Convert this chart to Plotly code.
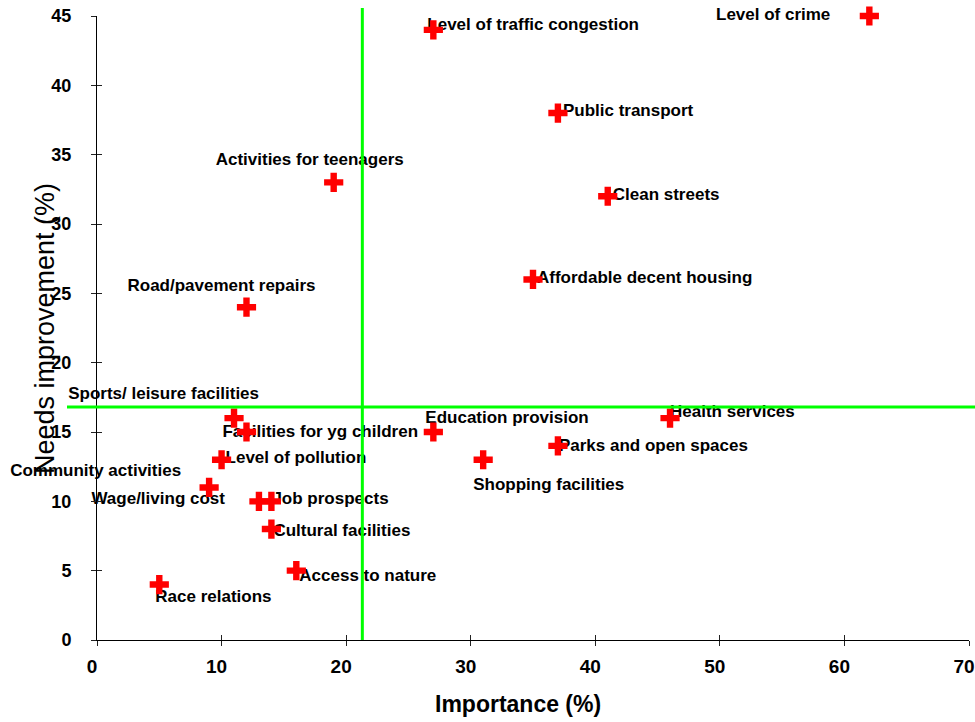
import plotly.graph_objects as go

# ---- data ----
labels = [
    "Level of crime", "Level of traffic congestion", "Public transport", "Clean streets",
    "Activities for teenagers", "Affordable decent housing", "Road/pavement repairs",
    "Sports/ leisure facilities", "Facilities for yg children", "Level of pollution",
    "Community activities", "Wage/living cost", "Job prospects", "Cultural facilities",
    "Access to nature", "Race relations", "Education provision", "Health services",
    "Parks and open spaces", "Shopping facilities",
]
importance = [62, 27, 37, 41, 19, 35, 12, 11, 12, 10, 9, 13, 14, 14, 16, 5, 27, 46, 37, 31]
needs_improvement = [45, 44, 38, 32, 33, 26, 24, 16, 15, 13, 11, 10, 10, 8, 5, 4, 15, 16, 14, 13]
mean_importance = 21.3
mean_needs = 16.8
x_ticks = [0, 10, 20, 30, 40, 50, 60, 70]
y_ticks = [0, 5, 10, 15, 20, 25, 30, 35, 40, 45]

# ---- label placement (pixel offsets of the text anchor from each point; dy is downwards) ----
label_dx = [-39, -6, 5, 5, -118, 4, -119, 25, -24, 4, -28, -34, 1, 2, 3, -4, -8, 0, 1, -10]
label_dy = [0, -4, -1, -1, -22, -1, -20, -23, 1, -1, -16, -2, -2, 3, 6, 13, -13, -5, 1, 26]
label_pos = ["middle left", "middle right", "middle right", "middle right", "middle right",
             "middle right", "middle right", "middle left", "middle right", "middle right",
             "middle left", "middle left", "middle right", "middle right", "middle right",
             "middle right", "middle right", "middle right", "middle right", "middle right"]

# ---- layout geometry ----
W, H = 975, 722
ML, MR, MT, MB = 97, 6, 16, 82
PW, PH = W - ML - MR, H - MT - MB
XMAX, YMAX = 70, 45
PXX, PXY = PW / XMAX, PH / YMAX

lab_x = [x + dx / PXX for x, dx in zip(importance, label_dx)]
lab_y = [y - dy / PXY for y, dy in zip(needs_improvement, label_dy)]

FONT = "Liberation Sans, Arial, sans-serif"

fig = go.Figure()
fig.add_trace(go.Scatter(
    x=lab_x, y=lab_y, mode="text", text=labels, textposition=label_pos,
    textfont=dict(family=FONT, size=17, color="black", weight="bold"),
    cliponaxis=False, showlegend=False, hoverinfo="skip",
))
fig.add_trace(go.Scatter(
    x=importance, y=needs_improvement, mode="markers",
    marker=dict(symbol="cross", size=16, color="#ff0000", line=dict(width=0)),
    cliponaxis=False, showlegend=False,
))
fig.add_trace(go.Scatter(x=[None], y=[None], xaxis="x2", yaxis="y2",
                         showlegend=False, hoverinfo="skip"))

axis_common = dict(showgrid=False, zeroline=False, ticklen=5, tickwidth=1, tickcolor="#222",
                   automargin=False)
fig.update_layout(
    width=W, height=H,
    margin=dict(l=ML, r=MR, t=MT, b=MB, autoexpand=False),
    paper_bgcolor="white", plot_bgcolor="white",
    xaxis=dict(range=[0, XMAX], tickvals=x_ticks, ticks="outside", showline=True,
               linecolor="black", linewidth=1,
               tickfont=dict(family=FONT, size=19, color="black", weight="bold"),
               ticklabelstandoff=4, ticklabelshift=-5, **axis_common),
    yaxis=dict(range=[0, YMAX], tickvals=y_ticks, ticks="outside", showline=True,
               linecolor="black", linewidth=1,
               tickfont=dict(family=FONT, size=18, color="black", weight="bold"),
               ticklabelstandoff=16, **axis_common),
    xaxis2=dict(range=[0, XMAX], tickvals=x_ticks, ticks="inside", overlaying="x",
                side="bottom", showticklabels=False, showline=False, **axis_common),
    yaxis2=dict(range=[0, YMAX], tickvals=y_ticks, ticks="inside", overlaying="y",
                side="left", showticklabels=False, showline=False, **axis_common),
    shapes=[
        dict(type="line", xref="paper", yref="paper",
             x0=mean_importance / XMAX, x1=mean_importance / XMAX,
             y0=0, y1=1 + 8 / PH, line=dict(color="#00ff00", width=3), layer="above"),
        dict(type="line", xref="paper", yref="paper",
             x0=-30 / PW, x1=1 + MR / PW,
             y0=mean_needs / YMAX, y1=mean_needs / YMAX,
             line=dict(color="#00ff00", width=3), layer="above"),
    ],
    annotations=[
        dict(text="Importance (%)", xref="paper", yref="paper",
             x=(517.5 - ML) / PW, y=(MT + PH - 704) / PH, xanchor="center", yanchor="middle",
             showarrow=False, font=dict(family=FONT, size=23, color="black", weight="bold")),
        dict(text="Needs improvement (%)", xref="paper", yref="paper",
             x=(45 - ML) / PW, y=(MT + PH - 329) / PH, xanchor="center", yanchor="middle",
             textangle=-90, showarrow=False,
             font=dict(family=FONT, size=27, color="black")),
    ],
)

fig.write_html("out.html", config={"displayModeBar": False},
               post_script="document.body.style.margin='0';")
